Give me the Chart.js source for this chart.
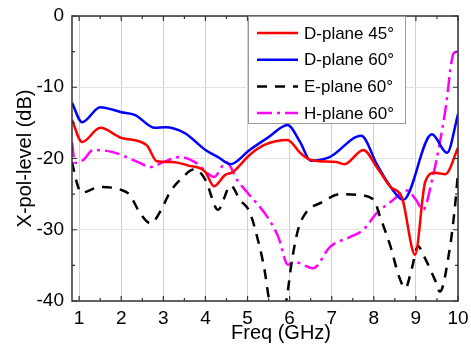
<!DOCTYPE html>
<html lang="en">
<head>
<meta charset="UTF-8">
<script src="https://cdn.jsdelivr.net/npm/chart.js"></script>
<title>X-pol level</title>
<style>
  body { margin: 0; background: #fff; }
  #caja { width: 471px; height: 346px; }
</style>
</head>
<body>
<div id="caja"><canvas id="grafico"></canvas></div>
<script>
// ticks
const xTicks = [1, 2, 3, 4, 5, 6, 7, 8, 9, 10];
const yTicks = [0, -10, -20, -30, -40];

// D-plane 45
const freqD45 = [0.83, 1.07, 1.5, 2.0, 2.6, 2.85, 3.2, 3.6, 4.0, 4.2, 4.47, 4.65, 5.05, 5.4, 5.95, 6.25, 6.5, 7.1, 7.3, 7.75, 8.08, 8.4, 8.67, 8.98, 9.22, 9.45, 9.7, 10];
const levelD45 = [-14.6, -17.7, -15.7, -17.1, -18.1, -20.4, -20.5, -21.0, -21.9, -23.9, -22.3, -21.9, -19.5, -18.1, -17.4, -19.2, -20.2, -20.5, -20.8, -18.8, -21.3, -24.0, -25.5, -33.5, -23.3, -22.0, -22.2, -18.5];

// D-plane 60
const freqD60 = [0.83, 1.07, 1.5, 2.0, 2.33, 2.8, 3.05, 3.5, 4.0, 4.3, 4.6, 5.05, 5.5, 5.95, 6.25, 6.5, 6.95, 7.7, 8.08, 8.4, 8.7, 9.38, 9.74, 10];
const levelD60 = [-12.2, -14.9, -12.8, -13.5, -13.9, -15.7, -15.6, -16.4, -18.8, -19.8, -20.8, -18.8, -17.0, -15.3, -17.7, -20.3, -19.8, -16.8, -20.9, -24.0, -25.8, -16.6, -19.2, -13.8];

// E-plane 60
const freqE60 = [0.83, 0.95, 1.05, 1.5, 2.0, 2.2, 2.45, 2.7, 2.95, 3.15, 3.4, 3.75, 4.0, 4.3, 4.6, 4.82, 5.05, 5.25, 5.4, 5.52, 5.72, 5.92, 6.05, 6.2, 6.4, 6.75, 7.2, 7.6, 8.0, 8.15, 8.4, 8.6, 8.75, 8.9, 9.05, 9.2, 9.45, 9.57, 9.8, 9.92, 10];
const levelE60 = [-20.5, -23.5, -24.8, -24.0, -24.4, -25.1, -27.7, -29.1, -27.2, -24.8, -23.0, -21.5, -23.0, -27.2, -23.8, -25.8, -27.5, -31.5, -35.5, -40.0, -43.0, -40.0, -34.5, -30.0, -27.5, -26.2, -25.0, -25.1, -25.8, -28.2, -32.4, -36.6, -38.2, -35.5, -32.3, -33.8, -37.0, -38.7, -32.8, -27.2, -22.0];

// H-plane 60
const freqH60 = [0.83, 0.9, 1.1, 1.33, 1.8, 2.4, 2.7, 3.0, 3.4, 3.75, 4.1, 4.2, 4.5, 4.75, 5.0, 5.47, 5.73, 5.96, 6.1, 6.56, 6.96, 7.44, 7.75, 8.08, 8.4, 8.8, 9.0, 9.17, 9.4, 9.55, 9.7, 9.9, 10];
const levelH60 = [-17.7, -20.6, -20.2, -18.8, -19.1, -20.5, -21.2, -20.5, -19.8, -20.5, -22.3, -22.6, -20.5, -23.0, -24.8, -28.2, -31.0, -34.9, -34.5, -35.4, -32.4, -31.0, -30.0, -27.6, -26.1, -24.5, -25.8, -27.2, -22.6, -18.4, -13.2, -5.2, -5.0];

const nombres = ['D-plane 45\u00B0', 'D-plane 60\u00B0', 'E-plane 60\u00B0', 'H-plane 60\u00B0'];
const fuente = '"Liberation Sans", Arial, sans-serif';

function puntos(f, v) {
    return f.map((x, i) => ({ x: x, y: v[i] }));
}

function serie(nombre, f, v, color, dash) {
    return {
        label: nombre,
        data: puntos(f, v),
        borderColor: color,
        backgroundColor: color,
        borderWidth: 2.5,
        borderDash: dash,
        pointRadius: 0,
        fill: false,
        cubicInterpolationMode: 'monotone'
    };
}

// marco, marcas de ticks hacia dentro, titulos y leyenda
const extras = {
    id: 'extras',
    afterDraw(chart) {
        const ctx = chart.ctx;
        const a = chart.chartArea;
        const xs = chart.scales.x, ys = chart.scales.y;
        ctx.save();
        ctx.strokeStyle = '#333';
        ctx.lineWidth = 1.5;
        ctx.setLineDash([]);
        ctx.strokeRect(a.left, a.top, a.right - a.left, a.bottom - a.top);

        ctx.lineWidth = 1.2;
        ctx.beginPath();
        xTicks.forEach(v => {
            const p = xs.getPixelForValue(v);
            ctx.moveTo(p, a.bottom); ctx.lineTo(p, a.bottom - 5);
            ctx.moveTo(p, a.top); ctx.lineTo(p, a.top + 5);
            const m = xs.getPixelForValue(v + 0.5);
            if (v + 0.5 < xs.max) {
                ctx.moveTo(m, a.bottom); ctx.lineTo(m, a.bottom - 3);
                ctx.moveTo(m, a.top); ctx.lineTo(m, a.top + 3);
            }
        });
        yTicks.forEach(v => {
            const p = ys.getPixelForValue(v);
            ctx.moveTo(a.left, p); ctx.lineTo(a.left + 5, p);
            ctx.moveTo(a.right, p); ctx.lineTo(a.right - 5, p);
            if (v - 5 >= ys.min) {
                const m = ys.getPixelForValue(v - 5);
                ctx.moveTo(a.left, m); ctx.lineTo(a.left + 3, m);
                ctx.moveTo(a.right, m); ctx.lineTo(a.right - 3, m);
            }
        });
        ctx.stroke();

        // titulos de ejes
        ctx.fillStyle = '#000';
        ctx.font = '20px ' + fuente;
        ctx.textAlign = 'center';
        ctx.textBaseline = 'middle';
        ctx.fillText('Freq (GHz)', 281, 333);
        ctx.save();
        ctx.translate(25, (a.top + a.bottom) / 2);
        ctx.rotate(-Math.PI / 2);
        ctx.fillText('X-pol-level (dB)', 0, 0);
        ctx.restore();

        // leyenda
        const lx = 248, ly = a.top, lw = 157, lh = 107;
        ctx.fillStyle = '#fff';
        ctx.fillRect(lx, ly, lw, lh);
        ctx.strokeStyle = '#999';
        ctx.lineWidth = 1;
        ctx.strokeRect(lx + 0.5, ly + 0.5, lw, lh);
        ctx.font = '17px ' + fuente;
        ctx.textAlign = 'left';
        chart.data.datasets.forEach((ds, i) => {
            const y = ly + 17 + i * 26.7;
            ctx.strokeStyle = ds.borderColor;
            ctx.lineWidth = 2.5;
            ctx.setLineDash(ds.borderDash || []);
            ctx.beginPath();
            ctx.moveTo(257, y); ctx.lineTo(298, y);
            ctx.stroke();
            ctx.setLineDash([]);
            ctx.fillStyle = '#000';
            ctx.fillText(ds.label, 304, y + 1);
        });
        ctx.restore();
    }
};

new Chart(document.getElementById('grafico'), {
    type: 'line',
    data: {
        datasets: [
            serie(nombres[0], freqD45, levelD45, '#ff0000', []),
            serie(nombres[1], freqD60, levelD60, '#0000ff', []),
            serie(nombres[2], freqE60, levelE60, '#000000', [10, 8]),
            serie(nombres[3], freqH60, levelH60, '#ff00ff', [15, 5, 3, 5])
        ]
    },
    options: {
        responsive: true,
        maintainAspectRatio: false,
        animation: false,
        layout: { padding: { top: 16, right: 13, left: 0, bottom: 0 } },
        plugins: { legend: { display: false }, tooltip: { enabled: false } },
        scales: {
            x: {
                type: 'linear',
                min: 0.83,
                max: 10,
                afterBuildTicks: s => { s.ticks = xTicks.map(v => ({ value: v })); },
                afterFit: s => { s.height = 45; s.paddingLeft = 0; s.paddingRight = 0; },
                grid: { color: '#d0d0d0', lineWidth: 1, drawTicks: false },
                border: { display: false },
                ticks: { color: '#000', padding: 6, font: { family: fuente, size: 19 } }
            },
            y: {
                min: -40,
                max: 0,
                afterBuildTicks: s => { s.ticks = yTicks.map(v => ({ value: v })); },
                afterFit: s => { s.width = 72; s.paddingTop = 0; s.paddingBottom = 0; },
                grid: { color: '#e4e4e4', lineWidth: 1, drawTicks: false },
                border: { display: false },
                ticks: { color: '#000', padding: 8, font: { family: fuente, size: 19 } }
            }
        }
    },
    plugins: [extras]
});
</script>
</body>
</html>
